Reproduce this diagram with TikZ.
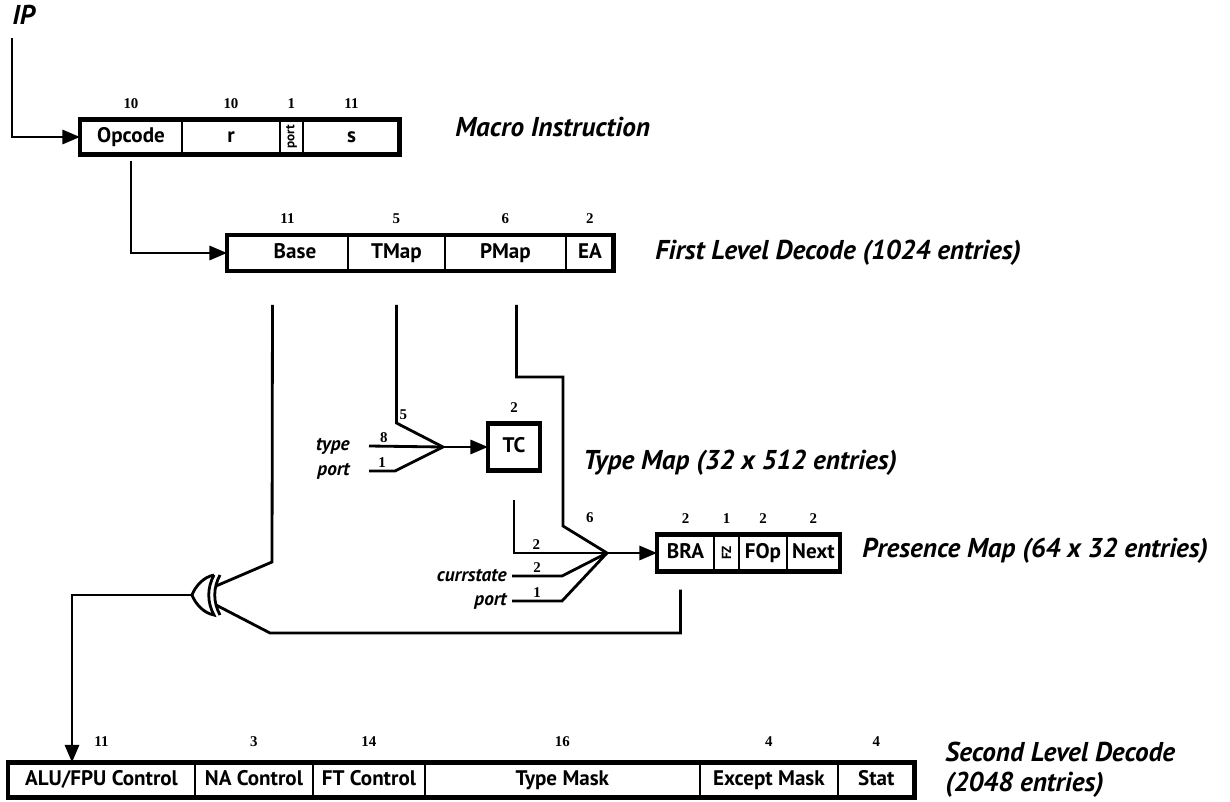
\documentclass[tikz,border=0pt]{standalone}
\usepackage{fontspec}
\setmainfont{PT Sans}
\newfontfamily\numfont{Liberation Serif}
\usepackage{graphicx}
\usepackage{tikz}
\usetikzlibrary{arrows.meta, positioning, calc}
\tikzset{
  field/.style={draw, line width=1.3pt, outer sep=0pt, inner sep=0pt, minimum height=0.7cm,
    text height=1.6ex, text depth=0.3ex, font=\fontsize{12}{14}\selectfont\bfseries},
  vfield/.style={field, text height={}, text depth={}},
  num/.style={font=\numfont\fontsize{8.5}{10}\selectfont\bfseries, inner sep=1pt},
  bits/.style={label={[num, yshift=0.18cm]above:#1}},
  lowbits/.style={label={[num, yshift=0.28cm]above:#1}},
  caption/.style={font=\fontsize{15.5}{19}\selectfont\bfseries\itshape, anchor=west, inner sep=0pt},
  sig/.style={font=\fontsize{11}{13}\selectfont\bfseries\itshape, inner sep=0pt},
  wire/.style={line width=1.6pt},
  arr/.style={wire, -{Triangle[length=10pt,width=8pt]}},
  frame/.style={line width=2.8pt}
}

\begin{document}
\begin{tikzpicture}[x=0.02cm, y=-0.02cm]
\useasboundingbox (0,0) rectangle (1230,801);

% macro instruction
\node[caption] (ip) at (12,15) {IP};
\node[field, minimum width=2.04cm, anchor=west, bits=10] (opcode) at (80,137) {Opcode};
\node[field, minimum width=1.96cm, right=0pt of opcode, bits=10] (r) {r};
\node[vfield, minimum width=0.46cm, right=0pt of r, bits=1] (port) {\rotatebox{90}{\fontsize{7.5}{8}\selectfont port}};
\node[field, minimum width=1.94cm, right=0pt of port, bits=11] (s) {s};
\draw[frame] (opcode.north west) rectangle (s.south east);
\node[caption] (macrocap) at (455,127) {Macro Instruction};

% first level decode
\node[field, minimum width=2.42cm, minimum height=0.72cm, anchor=west, bits=11] (base) at (227,253) {\hspace{0.3cm}Base};
\node[field, minimum width=1.94cm, minimum height=0.72cm, right=0pt of base, bits=5] (tmap) {TMap};
\node[field, minimum width=2.42cm, minimum height=0.72cm, right=0pt of tmap, bits=6] (pmap) {PMap};
\node[field, minimum width=0.96cm, minimum height=0.72cm, right=0pt of pmap, bits=2] (ea) {EA};
\draw[frame] (base.north west) rectangle (ea.south east);
\node[caption] (firstcap) at (655,253) {First Level Decode (1024 entries)};

% type map
\node[field, frame, minimum width=1.04cm, minimum height=0.94cm, bits=2] (tc) at (514,447) {TC};
\node[caption] (typecap) at (583,463) {Type Map (32 x 512 entries)};

% presence map
\node[field, minimum width=1.14cm, minimum height=0.74cm, anchor=west, bits=2] (bra) at (657,553) {BRA};
\node[vfield, minimum width=0.5cm, minimum height=0.74cm, right=0pt of bra, bits=1] (fz) {\rotatebox{90}{\fontsize{7.5}{8}\selectfont FZ}};
\node[field, minimum width=0.96cm, minimum height=0.74cm, right=0pt of fz, bits=2] (fop) {FOp};
\node[field, minimum width=1.06cm, minimum height=0.74cm, right=0pt of fop, bits=2] (next) {Next};
\draw[frame] (bra.north west) rectangle (next.south east);
\node[caption] (prescap) at (862,551) {Presence Map (64 x 32 entries)};

% second level decode
\node[field, minimum width=3.74cm, anchor=west, lowbits=11] (alu) at (8,780) {ALU/FPU Control};
\node[field, minimum width=2.36cm, right=0pt of alu, lowbits=3] (na) {NA Control};
\node[field, minimum width=2.24cm, right=0pt of na, lowbits=14] (ft) {FT Control};
\node[field, minimum width=5.5cm, right=0pt of ft, lowbits=16] (tmask) {Type Mask};
\node[field, minimum width=2.76cm, right=0pt of tmask, lowbits=4] (emask) {Except Mask};
\node[field, minimum width=1.54cm, right=0pt of emask, lowbits=4] (stat) {Stat};
\draw[frame] (alu.north west) rectangle (stat.south east);
\node[caption, align=left, font=\fontsize{15.5}{17}\selectfont\bfseries\itshape] (seccap) at (945,770) {Second Level Decode\\(2048 entries)};

% inputs
\node[sig, anchor=east] (type) at (350,446) {type};
\node[sig, anchor=east] (tport) at (350,471) {port};
\node[sig, anchor=east] (cstate) at (507,576) {currstate};
\node[sig, anchor=east] (pport) at (507,601) {port};

\coordinate (ipin) at (12,38);
\coordinate (tmerge) at (443,447);
\coordinate (pmerge) at (607,553);
\coordinate (xout) at (192,595);
\coordinate (xin1) at (216,586);
\coordinate (xin2) at (216,605);

\draw[arr] (ipin) |- (opcode.west);
\draw[arr] ([yshift=-0.14cm]opcode.south) |- (base.west);

\draw[wire] ([yshift=-0.68cm]tmap.south) -- ++(0,118) node[num, above right] {5} -- (tmerge);
\draw[wire] ([xshift=0.38cm]type.east) -- node[num, above, pos=0.2] {8} (tmerge);
\draw[wire] ([xshift=0.38cm]tport.east) -- node[num, above] {1} ++(26,0) -- (tmerge);
\draw[arr] (tmerge) -- (tc.west);

\draw[wire] ([yshift=-0.6cm]tc.south) |- node[num, above, pos=0.62] {2} (pmerge);
\draw[wire] ([xshift=0.22cm,yshift=-0.68cm]pmap.south) -- ++(0,72) -| (563,526) node[num, above right, xshift=0.4cm] {6} -- (pmerge);
\draw[wire] ([xshift=0.1cm]cstate.east) -- node[num, above] {2} ++(50,0) -- (pmerge);
\draw[wire] ([xshift=0.1cm]pport.east) -- node[num, above] {1} ++(50,0) -- (pmerge);
\draw[arr] (pmerge) -- (bra.west);

% xor gate
\draw[wire] (214,575) .. controls (203,577) and (195,587) .. (xout) .. controls (195,603) and (203,613) .. (214,615) .. controls (207,602) and (207,588) .. (214,575);
\draw[wire] (220,575) .. controls (213,588) and (213,602) .. (220,615);
\draw[wire] ([xshift=-0.3cm,yshift=-0.68cm]base.south) -- (272,562) -- (xin1);
\draw[wire] ([xshift=-0.1cm,yshift=-0.36cm]bra.south) |- (270,633) -- (xin2);
\draw[arr] (xout) -| ([xshift=1.28cm]alu.north west);
\end{tikzpicture}
\end{document}
